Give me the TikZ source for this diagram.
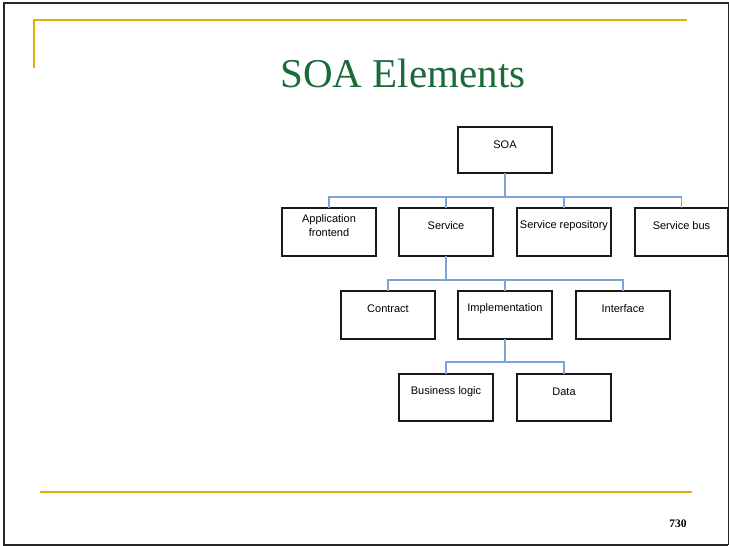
\documentclass[tikz,border=0pt]{standalone}
\usepackage{fontspec}
\setmainfont{Liberation Serif}
\newfontfamily\boxfont{Liberation Sans}
\definecolor{gold}{HTML}{E0B000}
\definecolor{titlegreen}{HTML}{1B6B3A}
\definecolor{linkblue}{HTML}{7FA3D6}
\tikzset{
  elemtext/.style={font=\boxfont\fontsize{11}{13.5}\selectfont, align=center, anchor=center},
  link/.style={draw=linkblue, line width=1.3pt},
}
\newcommand{\elembox}[6]{% name, x1, y1, x2, y2, text
  \draw[black!90, line width=1.05pt] (#2,#3) rectangle (#4,#5);
  \node[elemtext] (#1) at ({(#2+#4)/2},{#3+17.5}) {#6};
  \coordinate (#1-top) at ({(#2+#4)/2},#3);
  \coordinate (#1-bot) at ({(#2+#4)/2},#5);
}
\begin{document}
\begin{tikzpicture}[x=1pt,y=-1pt]
\useasboundingbox (0,0) rectangle (729,546);
\fill[white] (0,0) rectangle (729,546);
\draw[black!85, line width=2pt] (3.5,2.5) -- (728,2.5);
\draw[black!85, line width=1.5pt] (4,2) -- (4,545) -- (728,545);
\draw[black!85, line width=1.2pt] (728.4,2) -- (728.4,545);
% gold decorations
\draw[gold, line width=1.3pt] (34,68) -- (34,20) -- (687,20);
\draw[gold, line width=1.3pt] (40,492) -- (692,492);
% title
\node[font=\fontsize{41}{45}\selectfont, text=titlegreen, anchor=base] (title) at (403,87) {SOA Elements};
\node[font=\bfseries\fontsize{11.5}{13}\selectfont, anchor=base] (pagenum) at (678,527) {730};
% boxes
\elembox{soa}{458}{127}{552}{173}{SOA}
\elembox{app}{282}{208}{376}{256}{Application\\frontend}
\elembox{svc}{399}{208}{493}{256}{Service}
\elembox{repo}{517}{208}{611}{256}{Service repository}
\elembox{bus}{635}{208}{728}{256}{Service bus}
\elembox{contract}{341}{291}{435}{339}{Contract}
\elembox{impl}{458}{291}{552}{339}{Implementation}
\elembox{iface}{576}{291}{670}{339}{Interface}
\elembox{logic}{399}{374}{493}{421}{Business logic}
\elembox{data}{517}{374}{611}{421}{Data}
% connectors
\coordinate (b1) at (505,197);
\draw[link] (soa-bot) -- (b1);
\draw[link] (app-top) |- (b1);
\draw[link] (bus-top) |- (b1);
\draw[link] (svc-top) -- (svc-top |- b1);
\draw[link] (repo-top) -- (repo-top |- b1);
\coordinate (b2) at (446,280);
\draw[link] (svc-bot) -- (b2);
\draw[link] (contract-top) |- (b2);
\draw[link] (iface-top) |- (b2);
\draw[link] (impl-top) -- (impl-top |- b2);
\coordinate (b3) at (505,362);
\draw[link] (impl-bot) -- (b3);
\draw[link] (logic-top) |- (b3);
\draw[link] (data-top) |- (b3);
\end{tikzpicture}
\end{document}
